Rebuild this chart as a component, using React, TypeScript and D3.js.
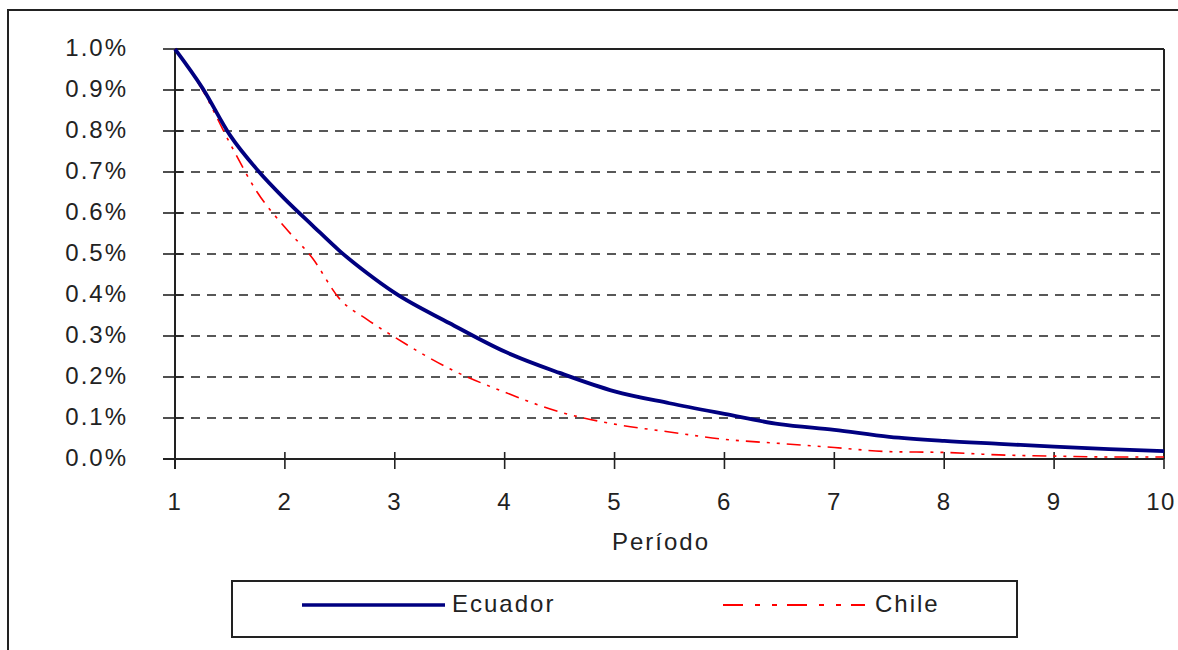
import React from "react";
import * as d3 from "d3";

// valores (en %)
const periods = [1, 1.25, 1.5, 1.75, 2, 2.25, 2.5, 2.75, 3, 3.5, 4, 4.5, 5, 5.5, 6, 6.5, 7, 7.5, 8, 8.5, 9, 9.5, 10];
const ecuador = [1.0, 0.905, 0.79, 0.705, 0.634, 0.57, 0.507, 0.453, 0.405, 0.331, 0.262, 0.21, 0.165, 0.136, 0.11, 0.085, 0.071, 0.054, 0.044, 0.037, 0.03, 0.024, 0.019];
const chile = [1.0, 0.9, 0.77, 0.65, 0.565, 0.49, 0.39, 0.34, 0.297, 0.22, 0.163, 0.115, 0.085, 0.066, 0.048, 0.038, 0.028, 0.018, 0.016, 0.01, 0.007, 0.005, 0.005];
const xTicks = [1, 2, 3, 4, 5, 6, 7, 8, 9, 10];
const yTicks = [0, 0.1, 0.2, 0.3, 0.4, 0.5, 0.6, 0.7, 0.8, 0.9, 1.0];
const seriesNames = ["Ecuador", "Chile"];

const W = 1178;
const H = 650;
const plot = { left: 175, right: 1164, top: 49, bottom: 459 };
const font = "'Liberation Sans', Arial, sans-serif";
const ink = "#222";
const chileDash = "14,7,3,7,3,7";

const App = () => {
  const x = d3.scaleLinear().domain([1, 10]).range([plot.left, plot.right]);
  const y = d3.scaleLinear().domain([0, 1]).range([plot.bottom, plot.top]);

  const line = d3
    .line<number>()
    .x((_, i) => x(periods[i]))
    .y((d) => y(d))
    .curve(d3.curveMonotoneX);

  const textStyle = { fontFamily: font, fontSize: 24, letterSpacing: 2, fill: ink };
  const tickStyle = { ...textStyle, letterSpacing: 1.5 };

  return (
    <div style={{ position: "absolute", left: 0, top: 0 }}>
      <svg width={W} height={H} style={{ display: "block", background: "#fff" }}>
        {/* marco exterior */}
        <rect x={8} y={10} width={W + 20} height={H + 20} fill="none" stroke={ink} strokeWidth={2} />

        {/* líneas de división */}
        {yTicks.slice(1, -1).map((t) => (
          <line key={t} x1={plot.left} x2={plot.right - 4} y1={y(t)} y2={y(t)}
            stroke={ink} strokeWidth={1.6} strokeDasharray="9,7" />
        ))}

        {/* borde del área */}
        <line x1={plot.left} x2={plot.right} y1={plot.top} y2={plot.top} stroke={ink} strokeWidth={2} />
        <line x1={plot.right} x2={plot.right} y1={plot.top} y2={plot.bottom} stroke={ink} strokeWidth={2} />
        <line x1={plot.left} x2={plot.left} y1={plot.top} y2={plot.bottom + 10} stroke={ink} strokeWidth={2} />
        <line x1={plot.left - 12} x2={plot.right} y1={plot.bottom} y2={plot.bottom} stroke={ink} strokeWidth={2} />

        {/* eje Y */}
        {yTicks.map((t) => (
          <g key={t}>
            <line x1={plot.left - 12} x2={plot.left + 8} y1={y(t)} y2={y(t)} stroke={ink} strokeWidth={1.6} />
            <text x={128} y={y(t) + 7} textAnchor="end" style={textStyle}>
              {t.toFixed(1) + "%"}
            </text>
          </g>
        ))}

        {/* eje X */}
        {xTicks.map((t) => (
          <g key={t}>
            <line x1={x(t)} x2={x(t)} y1={plot.bottom - 7} y2={plot.bottom + 10} stroke={ink} strokeWidth={1.6} />
            <text x={x(t) - (t === 10 ? 3 : 0)} y={510} textAnchor="middle" style={tickStyle}>
              {t}
            </text>
          </g>
        ))}
        <text x={661} y={550} textAnchor="middle" style={textStyle}>Período</text>

        {/* series */}
        <path d={line(chile) ?? ""} fill="none" stroke="#ff0000" strokeWidth={1.6} strokeDasharray={chileDash} />
        <path d={line(ecuador) ?? ""} fill="none" stroke="#000080" strokeWidth={3.8} />

        {/* leyenda */}
        <rect x={232} y={581} width={785} height={56} fill="#fff" stroke={ink} strokeWidth={2} />
        <line x1={302} x2={445} y1={605} y2={605} stroke="#000080" strokeWidth={3.5} />
        <text x={452} y={612} style={textStyle}>{seriesNames[0]}</text>
        <line x1={723} x2={865} y1={605} y2={605} stroke="#ff0000" strokeWidth={2} strokeDasharray="20,12,5,12,5,10" />
        <text x={875} y={612} style={textStyle}>{seriesNames[1]}</text>
      </svg>
    </div>
  );
};

export default App;
